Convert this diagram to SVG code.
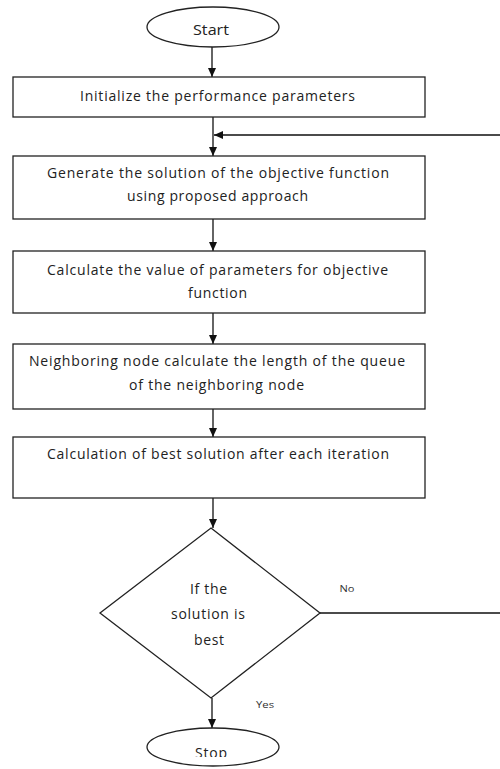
<svg xmlns="http://www.w3.org/2000/svg" width="500" height="769" viewBox="0 0 500 769">
<style>
.n{fill:#fff;stroke:#222;stroke-width:1.3}
.t{font-family:"Open Sans","Liberation Sans",sans-serif;font-size:14px;fill:#222;text-anchor:middle}
.s{font-family:"Open Sans","Liberation Sans",sans-serif;font-size:9px;fill:#333;text-anchor:middle}
.c{fill:none;stroke:#111;stroke-width:1.3}
</style>
<defs>
<marker id="ah" markerWidth="10" markerHeight="10" refX="9" refY="5" orient="auto" markerUnits="userSpaceOnUse">
<path d="M0,1 L9,5 L0,9 Z" fill="#111"/>
</marker>
<clipPath id="cut"><rect x="0" y="0" width="500" height="757"/></clipPath>
</defs>
<rect width="500" height="769" fill="#fff"/>
<g id="connectors">
<line class="c" x1="212" y1="47" x2="212" y2="77" marker-end="url(#ah)"/>
<line class="c" x1="213" y1="117" x2="213" y2="156" marker-end="url(#ah)"/>
<line class="c" x1="213" y1="219" x2="213" y2="251" marker-end="url(#ah)"/>
<line class="c" x1="213" y1="313" x2="213" y2="344" marker-end="url(#ah)"/>
<line class="c" x1="213" y1="409" x2="213" y2="437" marker-end="url(#ah)"/>
<line class="c" x1="213" y1="498" x2="213" y2="528" marker-end="url(#ah)"/>
<line class="c" x1="212" y1="698" x2="212" y2="728" marker-end="url(#ah)"/>
<path class="c" d="M320,613 H502 V135 H214" marker-end="url(#ah)"/>
<text class="s" x="347" y="592" textLength="15" lengthAdjust="spacingAndGlyphs">No</text>
<text class="s" x="265" y="708" textLength="18" lengthAdjust="spacingAndGlyphs">Yes</text>
</g>
<g id="start">
<ellipse class="n" cx="213" cy="27" rx="66" ry="20"/>
<text class="t" x="211" y="34.5" textLength="36" lengthAdjust="spacingAndGlyphs">Start</text>
</g>
<g id="init">
<rect class="n" x="13" y="77" width="412" height="40"/>
<text class="t" x="217.5" y="101" textLength="275" lengthAdjust="spacing">Initialize the performance  parameters</text>
</g>
<g id="generate">
<rect class="n" x="13" y="156" width="412" height="63"/>
<text class="t" x="218" y="178" textLength="342" lengthAdjust="spacing">Generate the solution of the objective function</text>
<text class="t" x="217.5" y="201" textLength="181" lengthAdjust="spacing">using proposed  approach</text>
</g>
<g id="calculate">
<rect class="n" x="13" y="251" width="412" height="62"/>
<text class="t" x="217.5" y="274.5" textLength="341" lengthAdjust="spacing">Calculate the value of parameters for objective</text>
<text class="t" x="217.5" y="298" textLength="59" lengthAdjust="spacing">function</text>
</g>
<g id="neighbor">
<rect class="n" x="13" y="344" width="412" height="65"/>
<text class="t" x="217" y="366" textLength="376" lengthAdjust="spacing">Neighboring  node calculate the length of the queue</text>
<text class="t" x="216.5" y="390" textLength="175" lengthAdjust="spacing">of the neighboring  node</text>
</g>
<g id="best">
<rect class="n" x="13" y="437" width="412" height="61"/>
<text class="t" x="218" y="459" textLength="342" lengthAdjust="spacing">Calculation  of best solution  after each iteration</text>
</g>
<g id="decision">
<polygon class="n" points="211,528 320,613 211,698 100,613"/>
<text class="t" x="208.5" y="594" textLength="37" lengthAdjust="spacing">If the</text>
<text class="t" x="208" y="619" textLength="74" lengthAdjust="spacing">solution  is</text>
<text class="t" x="209" y="645" textLength="30" lengthAdjust="spacing">best</text>
</g>
<g id="stop">
<ellipse class="n" cx="213" cy="747" rx="66" ry="19"/>
<text class="t" x="211" y="758" textLength="32" lengthAdjust="spacing" clip-path="url(#cut)">Stop</text>
</g>
</svg>
